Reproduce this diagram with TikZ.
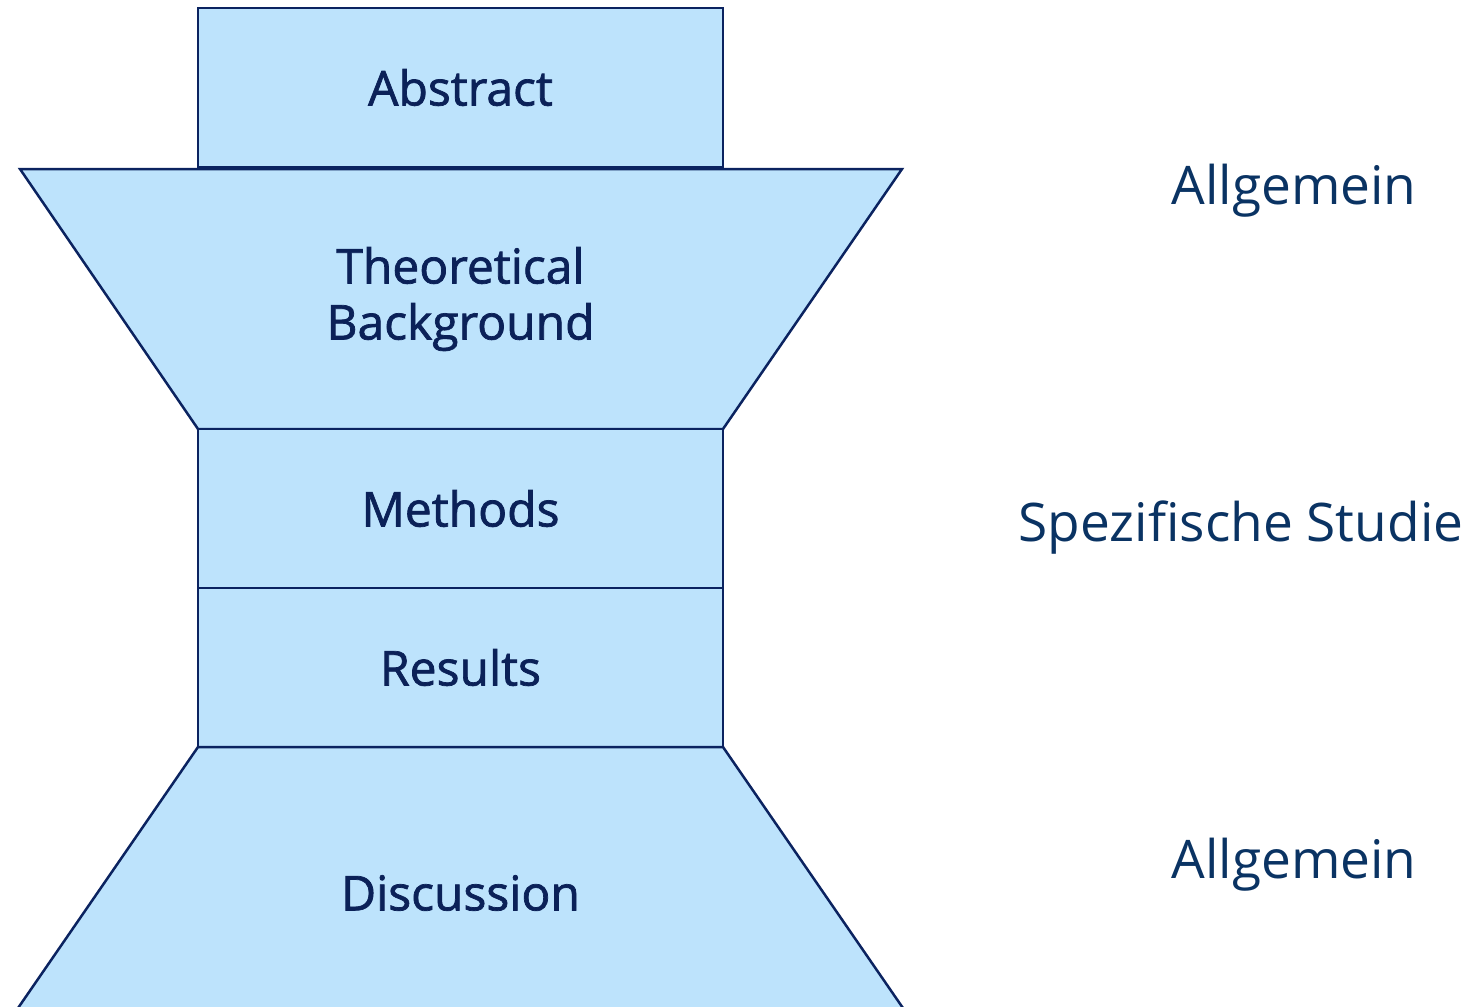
\documentclass[tikz,border=0pt]{standalone}
\usepackage{fontspec}
\setmainfont{Open Sans}
\newfontfamily\boxfont{Open Sans}[FakeBold=1.5]
\usetikzlibrary{positioning}
\definecolor{boxfill}{HTML}{BDE3FC}
\definecolor{boxline}{HTML}{0B2360}
\definecolor{boxtext}{HTML}{0B2158}
\definecolor{sidetext}{HTML}{0A3363}

\begin{document}
\begin{tikzpicture}[x=0.5pt,y=-0.5pt,node distance=0pt,
    part/.style={draw=boxline,fill=boxfill,line width=1.25pt},
    label/.style={text=boxtext,font=\boxfont\fontsize{24}{28}\selectfont,align=center},
    block/.style={part,label,rectangle,outer sep=0pt,inner sep=0pt,minimum width=262.5pt,minimum height=79.5pt},
    side/.style={text=sidetext,font=\fontsize{26.6}{30}\selectfont}]
        \useasboundingbox (0,0) rectangle (1476,1006);
        % top block and the widening funnel
        \node[block] (abstract) at (460.5,87.5) {Abstract};
        \draw[part] (20,169) -- (902,169) -- (723,429) -- (198,429) -- cycle;
        \node[label] (theory) at (460.5,299) {Theoretical\\Background};
        % the narrow middle
        \node[block] (methods) at (460.5,508.5) {Methods};
        \node[block] (results) [below=of methods] {Results};
        % bottom funnel, cut off by the page
        \draw[part] (results.south west) -- (results.south east) -- (925,1040) -- (-4,1040) -- cycle;
        \node[label] (discussion) at (460.5,893) {Discussion};
        % labels on the right
        \node[side] (general_top) at (1294,191) {Allgemein};
        \node[side] (specific) at (1241,528) {Spezifische Studie};
        \node[side] (general_bottom) at (1294,865) {Allgemein};
    \end{tikzpicture}
\end{document}
